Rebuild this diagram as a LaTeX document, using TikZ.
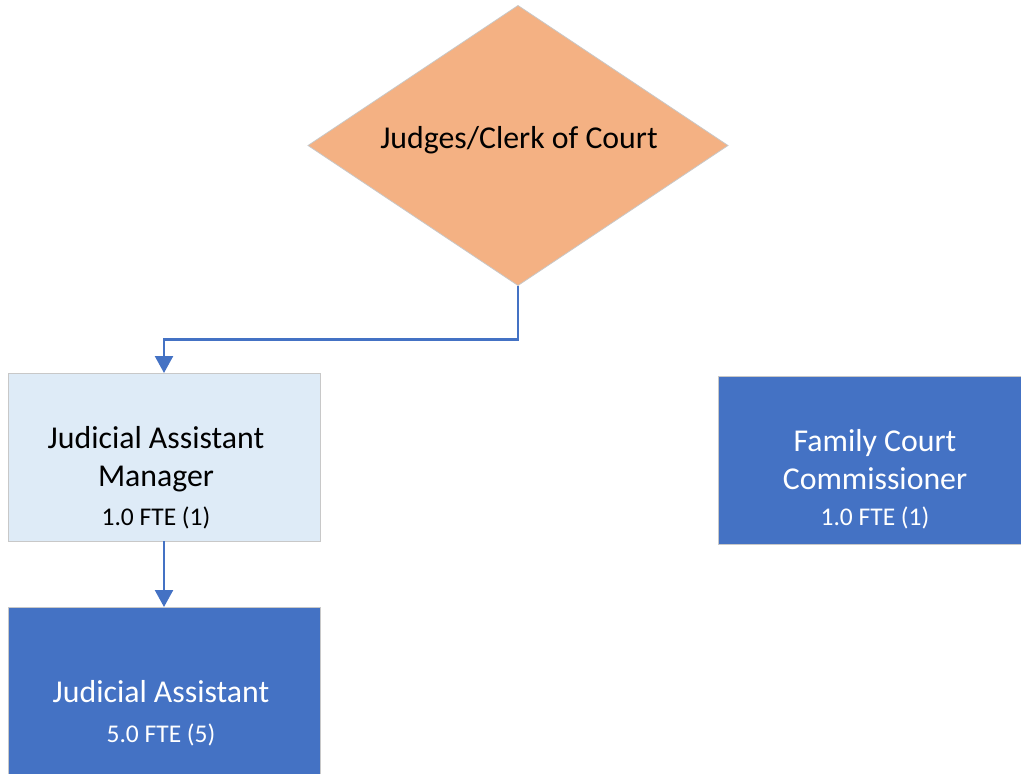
\documentclass[tikz,border=0pt]{standalone}
\usepackage{fontspec}
\setmainfont{Carlito}
\usetikzlibrary{shapes.geometric,arrows.meta}

\definecolor{courtorange}{HTML}{F4B183}
\definecolor{mgrblue}{HTML}{DEEBF7}
\definecolor{staffblue}{HTML}{4472C4}
\definecolor{edgegray}{HTML}{C8C8C8}

\begin{document}
\begin{tikzpicture}[x=1pt,y=-1pt]
  \tikzset{
    box/.style={draw=edgegray,line width=.8pt,inner sep=0pt,outer sep=0pt,
      minimum width=312pt,minimum height=168pt},
    title/.style={anchor=base,inner sep=0pt,font=\fontsize{31.8}{38}\selectfont},
    fte/.style={anchor=base,inner sep=0pt,font=\fontsize{25.5}{30}\selectfont},
    post/.style={draw=staffblue,line width=2.4pt,
      -{Triangle[width=18pt,length=17pt]}} % connector with arrow head
  }
  \clip (0,0) rectangle (1021,774);

  % shapes
  \node[diamond,draw=edgegray,line width=.8pt,fill=courtorange,inner sep=0pt,
    outer sep=0pt,minimum width=420pt,minimum height=280pt] (judges) at (518,145.5) {};
  \node[box,fill=mgrblue] (jam) at (164,457) {};
  \node[box,fill=staffblue,minimum height=210pt] (ja) at (164,712) {};
  \node[box,fill=staffblue,minimum width=330pt] (fcc) at (883,460) {};

  % texts
  \node[title] (judges text) at (519,148) {Judges/Clerk of Court};
  \node[title] (jam line1) at (156,448) {Judicial Assistant};
  \node[title] (jam line2) at (156,486) {Manager};
  \node[fte] (jam fte) at (156,525) {1.0 FTE (1)};
  \node[title,white] (fcc line1) at (875,451) {Family Court};
  \node[title,white] (fcc line2) at (875,489) {Commissioner};
  \node[fte,white] (fcc fte) at (875,525) {1.0 FTE (1)};
  \node[title,white] (ja line1) at (161,702) {Judicial Assistant};
  \node[fte,white] (ja fte) at (161,742) {5.0 FTE (5)};

  % connectors
  \draw[post] (judges.south) -- ++(0,54) -| (jam.north);
  \draw[post] (jam.south) -- (ja.north);
\end{tikzpicture}
\end{document}
